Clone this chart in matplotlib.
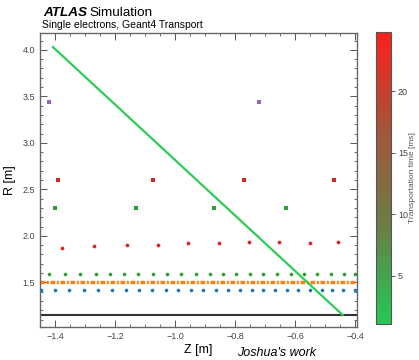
import matplotlib
matplotlib.use("Agg")
import matplotlib.pyplot as plt
from matplotlib.colors import LinearSegmentedColormap, Normalize
from matplotlib.cm import ScalarMappable
from matplotlib.ticker import MultipleLocator

plt.rcParams["font.family"] = ["Liberation Sans", "DejaVu Sans"]

# Trefferpositionen (Z, R) der einzelnen Detektorlagen
blue_z = [-1.447, -1.400, -1.353, -1.303, -1.257, -1.210, -1.163, -1.120, -1.077, -1.030,
          -0.990, -0.947, -0.907, -0.863, -0.823, -0.783, -0.743, -0.707, -0.667, -0.627,
          -0.590, -0.550, -0.513, -0.477, -0.440, -0.403]
blue_r = 1.415

green_z = [-1.420, -1.367, -1.317, -1.263, -1.217, -1.170, -1.123, -1.073, -1.027, -0.980,
           -0.930, -0.883, -0.840, -0.797, -0.750, -0.707, -0.660, -0.613, -0.570, -0.527,
           -0.480, -0.437, -0.400]
green_r = 1.585

orange_r = 1.5
barrel_r = 1.15

red_z = [-1.377, -1.270, -1.160, -1.057, -0.957, -0.853, -0.753, -0.653, -0.553, -0.457]
red_r = [1.872, 1.894, 1.900, 1.907, 1.918, 1.925, 1.930, 1.930, 1.925, 1.930]

green_sq_z = [-1.400, -1.130, -0.871, -0.632]
green_sq_r = 2.30

red_sq_z = [-1.389, -1.074, -0.770, -0.472]
red_sq_r = 2.60

purple_z = [-1.419, -0.721]
purple_r = 3.44

track_z = [-1.407, -0.443]
track_r = [4.03, 1.15]

z_lim = (-1.45, -0.395)
r_lim = (1.02, 4.18)
t_lim = (1.08, 24.8)

cmap = LinearSegmentedColormap.from_list("time", ["#22c955", "#6a7d48", "#a4553a", "#ff1e1e"])

fig = plt.figure(figsize=(4.19, 3.6), dpi=100)
ax = fig.add_axes([0.0955, 0.0917, 0.7565, 0.8163])
cax = fig.add_axes([0.897, 0.1, 0.036, 0.811])

ax.plot(z_lim, [barrel_r, barrel_r], color="#333333", lw=1.5, zorder=2)
ax.plot(z_lim, [orange_r, orange_r], color="#ff7f0e", lw=2.4,
        linestyle=(0, (1.4, 0.5, 0.6, 0.5)), zorder=2)
ax.plot(blue_z, [blue_r] * len(blue_z), "o", color="#1f77b4", ms=2.6, mew=0, zorder=3)
ax.plot(green_z, [green_r] * len(green_z), "o", color="#2ca02c", ms=2.6, mew=0, zorder=3)
ax.plot(red_z, red_r, "o", color="#d62728", ms=2.7, mew=0, zorder=3)
ax.plot(green_sq_z, [green_sq_r] * len(green_sq_z), "s", color="#2ca02c", ms=2.6, mew=0, zorder=3)
ax.plot(red_sq_z, [red_sq_r] * len(red_sq_z), "s", color="#d62728", ms=3.0, mew=0, zorder=3)
ax.plot(purple_z, [purple_r] * len(purple_z), "s", color="#9467bd", ms=2.8, mew=0, zorder=3)
ax.plot(track_z, track_r, color="#2ecc55", lw=1.6, zorder=4)

ax.set_xlim(z_lim)
ax.set_ylim(r_lim)
ax.xaxis.set_major_locator(MultipleLocator(0.2))
ax.xaxis.set_minor_locator(MultipleLocator(0.05))
ax.yaxis.set_major_locator(MultipleLocator(0.5))
ax.yaxis.set_minor_locator(MultipleLocator(0.1))
ax.tick_params(which="both", direction="in", top=True, right=True, colors="#555555",
               labelsize=6.5, labelcolor="#444444")
ax.tick_params(which="major", length=5, width=0.7)
ax.tick_params(which="minor", length=2.5, width=0.6)
for s in ax.spines.values():
    s.set_color("#666666")
    s.set_linewidth(1.0)

ax.set_xlabel("Z [m]", fontsize=9, labelpad=2)
ax.set_ylabel("R [m]", fontsize=9, labelpad=5)

fig.text(0.1026, 0.956, "ATLAS", fontsize=9.7, fontweight="bold", style="italic", va="baseline")
fig.text(0.214, 0.956, "Simulation", fontsize=9.7, va="baseline")
fig.text(0.1, 0.921, "Single electrons, Geant4 Transport", fontsize=7.5, va="baseline")
fig.text(0.566, 0.012, "Joshua's work", fontsize=9, style="italic", va="baseline")

sm = ScalarMappable(norm=Normalize(*t_lim), cmap=cmap)
cb = fig.colorbar(sm, cax=cax)
cb.set_ticks([5, 10, 15, 20])
cb.ax.tick_params(labelsize=6.5, colors="#555555", labelcolor="#444444", length=3, width=0.7, pad=2)
cb.outline.set_edgecolor("#555555")
cb.set_label("Transportation time [ms]", fontsize=6, color="#555555", labelpad=1)

fig.savefig("out.png", dpi=100)
